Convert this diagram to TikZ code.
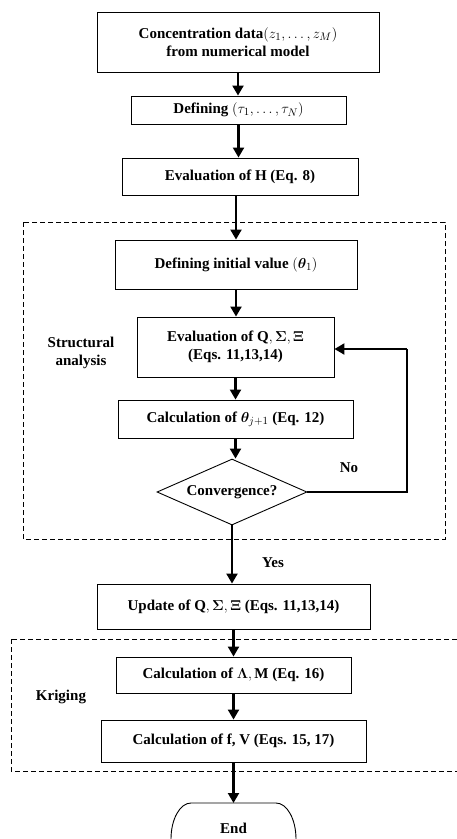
\documentclass[tikz,border=0pt]{standalone}
\usepackage{amsmath,bm}
\usepackage{fontspec}
\setmainfont{Liberation Serif}
\usetikzlibrary{arrows.meta,shapes.geometric}
\begin{document}
\begin{tikzpicture}[x=1pt,y=-1pt,
  every node/.style={font=\fontsize{15}{18}\selectfont\bfseries},
  procbox/.style={draw,line width=0.9pt,inner sep=0pt,align=center},
  arr/.style={line width=2.1pt,-{Triangle[width=11pt,length=10pt]}},
  flow/.style={line width=2.1pt},
  grp/.style={draw,line width=0.9pt,dash pattern=on 5pt off 3pt},
  lbl/.style={align=center}]
\path[use as bounding box] (0,0) rectangle (457,839);
\clip (0,0) rectangle (457,839);

% group frames
\draw[grp] (23,222) rectangle (445,539);
\draw[grp] (11,639) rectangle (470,771);

% boxes
\node[procbox,minimum width=282pt,minimum height=60pt] (data) at (238,42)
  {Concentration data$(z_1,\ldots,z_M)$\\from numerical model};
\node[procbox,minimum width=215pt,minimum height=28pt] (deftau) at (238.5,110)
  {Defining $(\tau_1,\ldots,\tau_N)$};
\node[procbox,minimum width=236pt,minimum height=37pt] (evalH) at (240,176.5)
  {Evaluation of H (Eq. 8)};
\node[procbox,minimum width=242pt,minimum height=49pt] (init) at (236,264.5)
  {Defining initial value $(\bm{\theta}_1)$};
\node[procbox,minimum width=197pt,minimum height=60pt] (evalQ) at (235.5,347)
  {Evaluation of $\mathbf{Q},\bm{\Sigma},\bm{\Xi}$\\(Eqs. 11,13,14)};
\node[procbox,minimum width=235pt,minimum height=38pt] (calcT) at (235.5,419)
  {Calculation of $\bm{\theta}_{j+1}$ (Eq. 12)};
\node[diamond,draw,line width=0.9pt,inner sep=0pt,minimum width=150pt,minimum height=66pt] (conv) at (232,492)
  {\makebox[0pt]{Convergence?}};
\node[procbox,minimum width=273pt,minimum height=45pt] (upd) at (233.5,606.5)
  {Update of $\mathbf{Q},\bm{\Sigma},\bm{\Xi}$ (Eqs. 11,13,14)};
\node[procbox,minimum width=235pt,minimum height=36pt] (calcL) at (233.5,675)
  {Calculation of $\bm{\Lambda},\mathbf{M}$ (Eq. 16)};
\node[procbox,minimum width=265pt,minimum height=42pt] (calcF) at (233.5,741)
  {Calculation of f, V (Eqs. 15, 17)};
\node[inner sep=0pt] (end) at (233.5,828) {End};
\draw[line width=0.9pt] (171,850) -- (171,839)
  arc[start angle=180,end angle=270,x radius=20,y radius=36] -- (276,803)
  arc[start angle=270,end angle=360,x radius=20,y radius=36] -- (296,850);
\coordinate (endtop) at (233.5,803);

% labels
\node[lbl] (struct) at (81,353) {Structural\\analysis};
\node[lbl] (krig) at (61,697) {Kriging};
\node (no) at (349,468) {No};
\node (yes) at (273,563) {Yes};

% connectors
\draw[arr] (data.south) -- (data.south |- deftau.north);
\draw[arr] (deftau.south) -- (deftau.south |- evalH.north);
\draw[arr] (evalH.south -| init.north) -- (init.north);
\draw[arr] (init.south) -- (init.south |- evalQ.north);
\draw[arr] (evalQ.south) -- (evalQ.south |- calcT.north);
\draw[arr] (calcT.south) -- (calcT.south |- conv.north);
\draw[arr] (conv.south) -- (conv.south |- upd.north);
\draw[arr] (upd.south) -- (upd.south |- calcL.north);
\draw[arr] (calcL.south) -- (calcL.south |- calcF.north);
\draw[arr] (calcF.south) -- (calcF.south |- endtop);
\coordinate (loop) at (407,349);
\draw[flow] (conv.east) -- (conv.east -| loop) -- (loop);
\draw[arr] (loop) -- (evalQ.east |- loop);
\end{tikzpicture}
\end{document}
